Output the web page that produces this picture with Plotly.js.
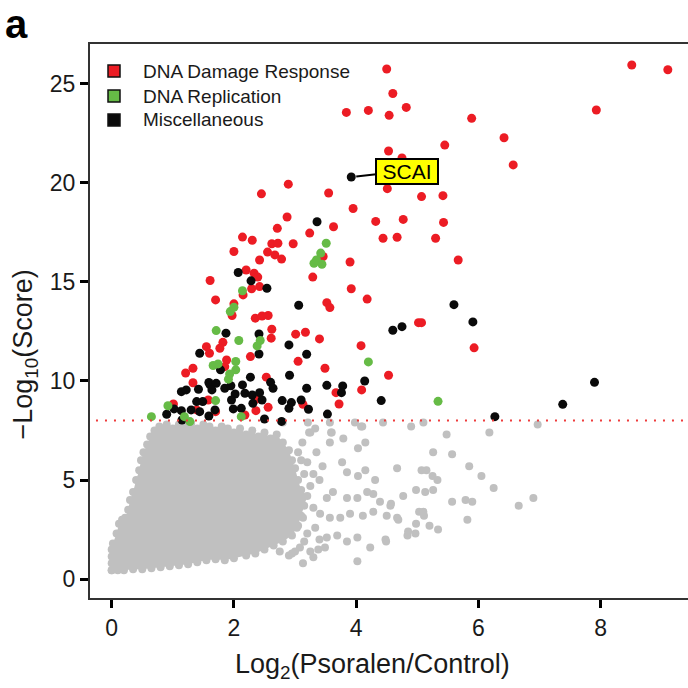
<!DOCTYPE html>
<html><head><meta charset="utf-8">
<script src="https://cdn.plot.ly/plotly-3.0.1.min.js"></script>
<style>html,body{margin:0;padding:0;background:#fff}#chart{width:688px;height:688px}</style>
</head><body><div id="chart"></div>
<script>
// ---- data (x = log2(Psoralen/Control), y = -log10(Score)) ----
const threshold = 8;
const categories = ["DNA Damage Response", "DNA Replication", "Miscellaneous"];
const xTicks = [0, 2, 4, 6, 8];
const yTicks = [0, 5, 10, 15, 20, 25];

const redPts = [[4.50,25.74],[8.51,25.94],[9.10,25.70],[4.60,24.50],[3.84,23.55],[4.20,23.65],[4.54,23.40],[4.82,23.80],[7.93,23.67],[5.89,23.25],[6.42,22.27],[6.57,20.90],[5.45,21.90],[4.53,21.60],[4.75,21.25],[4.51,19.70],[5.07,19.30],[5.42,19.35],[3.95,18.70],[4.32,18.05],[4.77,18.15],[5.43,18.00],[4.44,17.20],[4.67,17.25],[5.30,17.20],[2.89,19.93],[2.45,19.44],[3.55,19.48],[2.87,18.27],[2.71,17.70],[3.24,17.46],[3.63,17.78],[2.14,17.26],[2.30,17.10],[2.00,16.53],[2.62,16.92],[2.72,16.95],[2.97,16.92],[2.55,16.50],[2.67,16.36],[2.78,16.15],[2.42,16.10],[3.46,16.28],[3.90,16.00],[3.29,15.24],[3.92,14.65],[4.18,14.13],[2.20,15.60],[2.33,15.44],[2.39,15.24],[1.61,15.07],[2.29,14.65],[2.42,14.76],[2.15,14.34],[1.70,14.09],[2.00,13.89],[1.97,13.30],[2.35,13.17],[2.46,13.28],[2.56,13.30],[2.62,12.61],[2.61,12.16],[3.01,12.36],[3.17,12.46],[3.40,12.12],[1.82,11.95],[1.55,11.73],[1.77,11.65],[1.60,11.40],[1.88,11.06],[2.27,11.23],[3.05,10.99],[3.49,10.64],[4.08,11.78],[4.53,10.29],[1.33,10.64],[1.21,10.40],[1.33,9.91],[2.53,10.19],[1.85,10.72],[3.67,9.41],[4.09,9.55],[3.72,8.84],[2.56,8.67],[2.36,8.50],[2.18,8.28],[1.70,8.45],[1.58,9.04],[1.01,8.84],[1.39,8.54],[2.37,9.09],[3.13,8.82],[5.67,16.10],[3.52,13.95],[3.57,13.70],[5.02,12.94],[5.07,12.94],[5.93,11.67]];

const greenPts = [[3.51,16.95],[3.42,16.45],[3.31,15.94],[3.35,16.10],[3.44,15.89],[2.14,14.55],[2.00,13.72],[1.94,13.50],[1.71,12.54],[2.08,12.04],[2.43,12.04],[2.38,11.77],[1.66,10.78],[1.74,10.86],[2.03,10.98],[2.03,10.56],[1.93,10.35],[1.91,10.09],[4.20,10.96],[1.70,9.01],[0.92,8.75],[0.65,8.20],[1.19,8.20],[1.28,7.95],[2.12,8.20],[5.34,8.97]];

const blackPts = [[3.92,20.29],[3.36,18.03],[2.07,15.47],[2.28,15.05],[2.54,14.68],[3.06,13.82],[1.87,12.41],[2.41,12.37],[2.41,11.36],[2.90,11.82],[3.19,11.35],[1.44,11.40],[1.78,10.56],[2.27,10.19],[2.91,10.29],[1.59,9.92],[1.14,9.46],[1.22,9.55],[1.42,9.58],[1.61,9.80],[1.71,9.88],[1.85,9.63],[1.95,9.76],[2.14,9.80],[2.02,9.34],[2.18,9.38],[2.30,9.29],[2.42,9.41],[2.60,9.93],[2.64,9.63],[2.46,9.04],[2.31,8.87],[1.96,9.04],[1.64,9.55],[1.39,8.96],[1.49,8.96],[1.30,8.54],[1.44,8.45],[1.59,8.23],[1.15,8.03],[1.14,8.50],[1.02,8.59],[0.90,8.32],[1.99,8.59],[2.12,8.62],[2.50,8.08],[2.78,7.96],[2.90,8.62],[2.79,9.01],[2.94,8.91],[3.10,9.04],[3.22,8.57],[3.53,8.33],[3.19,9.63],[3.52,9.78],[3.78,9.75],[3.76,9.41],[4.14,10.00],[4.41,9.01],[5.60,13.85],[5.91,12.98],[4.60,12.56],[4.75,12.74],[6.27,8.20],[7.38,8.82],[7.90,9.93],[1.69,8.54]];

// dense non-significant cloud: outline of the solid core (points along its edge)
const grayEdge = [[0.00,0.45],[0.00,0.80],[0.00,1.15],[0.00,1.50],[0.02,1.80],[0.08,2.30],[0.12,2.80],[0.17,3.00],[0.22,3.10],[0.27,3.50],[0.30,4.00],[0.35,4.40],[0.40,5.00],[0.45,5.50],[0.48,6.00],[0.52,6.40],[0.58,6.80],[0.63,7.20],[0.70,7.50],[0.78,7.70],[0.90,7.80],[1.00,7.60],[1.10,7.80],[1.20,7.70],[1.30,7.85],[1.40,7.60],[1.50,7.80],[1.60,7.70],[1.70,7.50],[1.80,7.70],[1.90,7.60],[2.00,7.40],[2.10,7.60],[2.20,7.30],[2.30,7.50],[2.40,7.20],[2.50,7.40],[2.60,7.10],[2.70,7.30],[2.80,6.90],[2.90,6.50],[2.95,6.00],[3.00,5.60],[3.05,5.00],[3.10,4.50],[3.20,4.20],[3.15,3.70],[3.10,3.20],[3.05,2.70],[2.95,2.20],[2.80,1.90],[2.65,1.70],[2.50,1.50],[2.35,1.30],[2.20,1.20],[2.00,1.05],[1.85,0.95],[1.70,1.00],[1.55,0.95],[1.40,0.85],[1.25,0.75],[1.10,0.70],[0.95,0.65],[0.80,0.60],[0.65,0.55],[0.50,0.50],[0.35,0.50],[0.20,0.45],[0.10,0.45],[0.00,0.45]];

const graySparse = [[3.25,7.4],[3.33,7.6],[3.60,7.4],[3.79,7.1],[3.57,6.9],[3.98,7.9],[4.10,7.7],[4.44,7.9],[4.03,6.6],[4.15,6.9],[4.67,5.6],[3.77,5.9],[3.85,5.4],[4.15,5.5],[4.03,5.2],[4.31,5.0],[3.62,4.4],[3.52,4.1],[3.85,4.1],[4.02,4.1],[4.18,4.4],[4.28,4.3],[4.39,3.9],[4.56,3.7],[4.67,3.1],[4.50,3.2],[4.28,3.4],[4.11,3.2],[3.90,3.3],[3.74,3.1],[3.57,3.1],[3.41,3.3],[3.30,3.6],[3.13,3.1],[3.33,2.6],[3.52,2.1],[3.69,2.2],[3.85,1.9],[4.02,2.1],[4.23,1.6],[4.48,2.0],[4.02,0.9],[3.49,1.6],[3.38,1.5],[3.25,1.4],[3.13,0.8],[3.30,1.1],[3.08,1.6],[3.03,2.6],[4.90,7.7],[5.10,7.9],[5.48,7.3],[6.18,7.4],[6.97,7.8],[5.26,6.4],[5.57,6.3],[5.07,5.5],[5.15,5.5],[5.25,5.2],[5.33,5.0],[5.85,5.7],[6.05,5.2],[6.25,4.6],[4.98,4.5],[5.13,4.4],[5.26,4.5],[4.77,4.2],[4.57,3.8],[5.57,3.9],[5.79,4.0],[5.90,3.9],[6.90,4.1],[6.66,3.7],[5.03,3.4],[5.10,3.4],[5.11,3.2],[4.69,3.0],[4.98,2.8],[5.20,2.7],[5.82,3.0],[4.85,2.4],[4.84,2.2],[4.97,2.3],[5.34,2.5],[4.49,1.9],[3.21,7.9],[3.57,7.9],[3.59,7.4],[3.23,7.4],[4.08,7.7],[2.80,7.9],[3.05,6.4],[3.12,6.9],[3.20,5.9],[3.30,5.3],[3.25,4.7],[3.40,5.0],[3.15,5.3],[3.10,6.0],[3.35,6.4],[3.45,5.7],[3.20,2.3],[3.15,1.9],[3.40,2.0],[3.00,1.4],[2.90,1.2],[2.95,1.3],[2.75,1.4]];

const scaiPoint = [3.92, 20.29];

// ---- colours ----
const colRed = '#ec1c24', colGreen = '#66bb46', colBlack = '#0a0a0a', colGray = '#c0c0c0';
const catColors = [colRed, colGreen, colBlack];
const FONT = 'Liberation Sans, Arial, Helvetica, sans-serif';
const xs = a => a.map(p => p[0]);
const ys = a => a.map(p => p[1]);

const traces = [
  {type:'scatter', mode:'markers', x: xs(grayEdge), y: ys(grayEdge), fill:'toself', fillcolor: colGray,
   line:{width:0, color: colGray}, marker:{size:8, color: colGray}, showlegend:false, hoverinfo:'skip'},
  {type:'scatter', mode:'markers', x: xs(graySparse), y: ys(graySparse), marker:{size:8, color: colGray}, showlegend:false},
  {type:'scatter', mode:'markers', x: xs(redPts), y: ys(redPts), name: categories[0], marker:{size:9, color: colRed}, showlegend:false},
  {type:'scatter', mode:'markers', x: xs(blackPts), y: ys(blackPts), name: categories[2], marker:{size:9, color: colBlack}, showlegend:false},
  {type:'scatter', mode:'markers', x: xs(greenPts), y: ys(greenPts), name: categories[1], marker:{size:9, color: colGreen}, showlegend:false},
];

// plot area in pixels: left 90, right 688, top 44, bottom 598
const PL = 90, PW = 598, PB = 598, PH = 554;
const px2x = p => (p - PL) / PW;
const px2y = p => (PB - p) / PH;

// legend drawn as keys (squares) + labels
const legendRowsPx = [71, 96, 120];
const shapes = [
  {type:'line', xref:'paper', x0:0.01, x1:1, yref:'y', y0: threshold, y1: threshold,
   line:{color:'#ee3b3b', width:2, dash:'2px,7px'}, layer:'above'}
];
const annotations = [
  {x: scaiPoint[0], y: scaiPoint[1], xref:'x', yref:'y', text:'SCAI', showarrow:true, arrowhead:0,
   arrowwidth:2, arrowcolor:'#000', ax:56, ay:-6, standoff:5, bgcolor:'#ffff00', bordercolor:'#000',
   borderwidth:2, borderpad:1, width:58, height:21, font:{size:21, color:'#000', family: FONT}},
  {xref:'paper', yref:'paper', x: px2x(4), y: px2y(1), xanchor:'left', yanchor:'top', showarrow:false,
   text:'<b>a</b>', font:{size:40, color:'#000', family: FONT}, borderpad:0},
  {xref:'paper', yref:'paper', x:0.473, y:-0.123, xanchor:'center', yanchor:'middle', showarrow:false,
   text:'Log<sub>2</sub>(Psoralen/Control)', font:{size:27, color:'#1a1a1a', family: FONT}},
  {xref:'paper', yref:'paper', x:-0.109, y:0.439, xanchor:'center', yanchor:'middle', showarrow:false, textangle:-90,
   text:'\u2212Log<sub>10</sub>(Score)', font:{size:27, color:'#1a1a1a', family: FONT}}
];
categories.forEach((name, i) => {
  const cy = legendRowsPx[i];
  shapes.push({type:'rect', xref:'paper', yref:'paper', x0: px2x(108), x1: px2x(120), y0: px2y(cy + 6), y1: px2y(cy - 6),
               fillcolor: catColors[i], line:{color:'#111', width:1.5}, layer:'above'});
  annotations.push({xref:'paper', yref:'paper', x: px2x(141), y: px2y(cy), xanchor:'left', yanchor:'middle',
                    showarrow:false, text: name, font:{size:19, color:'#1a1a1a', family: FONT}});
});

const layout = {
  width: 688, height: 688,
  margin: {l: PL, r: 0, t: 44, b: 90},
  paper_bgcolor: '#fff', plot_bgcolor: '#fff',
  font: {family: FONT, color: '#1a1a1a', size: 23},
  showlegend: false,
  xaxis: {range: [-0.355, 9.43], tickvals: xTicks, ticktext: xTicks.map(String), showgrid: false, zeroline: false,
          showline: true, mirror: true, linecolor: '#333', linewidth: 2,
          ticks: 'outside', ticklen: 8, tickwidth: 3, tickcolor: '#000', tickfont: {size: 23}},
  yaxis: {range: [-0.95, 27.0], tickvals: yTicks, ticktext: yTicks.map(String), showgrid: false, zeroline: false,
          showline: true, mirror: false, linecolor: '#333', linewidth: 2,
          ticks: 'outside', ticklen: 8, tickwidth: 3, tickcolor: '#000', tickfont: {size: 23}},
  shapes: shapes,
  annotations: annotations
};

Plotly.newPlot('chart', traces, layout, {staticPlot: true, displayModeBar: false});
</script></body></html>
